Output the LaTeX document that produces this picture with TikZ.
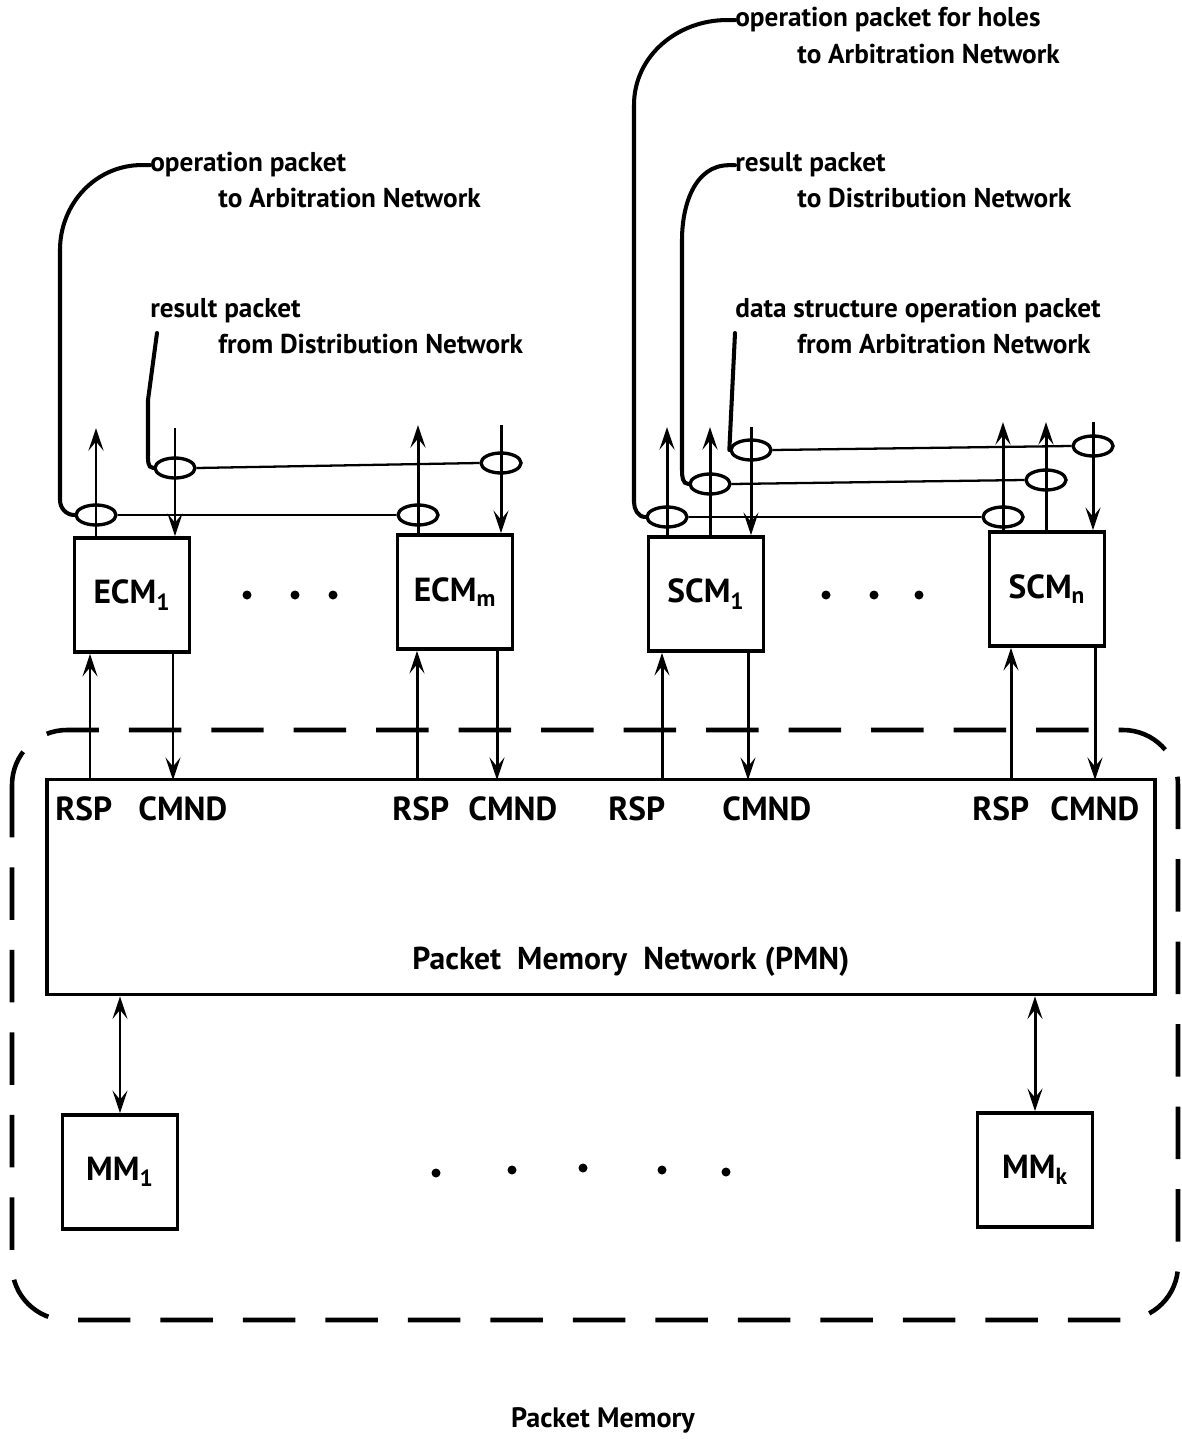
\documentclass[tikz,border=0pt]{standalone}
\usepackage{fontspec}
\setmainfont{PT Sans}
\usetikzlibrary{calc,arrows.meta,shapes.geometric}

\tikzset{
  cmbox/.style={draw,line width=2.2pt,minimum width=2.3cm,minimum height=2.28cm,
    inner sep=0pt,font=\fontsize{19}{21}\selectfont\bfseries},
  lbl/.style={anchor=base west,inner sep=0pt,font=\fontsize{15.5}{18}\selectfont\bfseries},
  portlbl/.style={anchor=base west,inner sep=0pt,font=\fontsize{19}{21}\selectfont\bfseries},
  tap/.style={draw,ellipse,line width=1.9pt,minimum width=0.8cm,minimum height=0.4cm,inner sep=0pt},
  arr/.style={line width=1.7pt,-{Stealth[length=4.5mm,width=3mm,inset=1.8mm]}},
  arrtwo/.style={line width=1.7pt,{Stealth[length=4.5mm,width=3mm,inset=1.8mm]}-{Stealth[length=4.5mm,width=3mm,inset=1.8mm]}},
  bus/.style={line width=1.3pt},
  wire/.style={line width=2.3pt,line cap=round}
}

\begin{document}
\begin{tikzpicture}[x=0.02cm,y=-0.02cm]
  \useasboundingbox (0,0) rectangle (1182,1439);

  % labels of the packet lines
  \node[lbl] (opA)  at (150,172) {operation packet};
  \node[lbl] (opA2) at (218,208) {to Arbitration Network};
  \node[lbl] (resB)  at (150,317) {result packet};
  \node[lbl] (resB2) at (218,353) {from Distribution Network};
  \node[lbl] (opC)  at (735,27) {operation packet for holes};
  \node[lbl] (opC2) at (797,64) {to Arbitration Network};
  \node[lbl] (resD)  at (735,172) {result packet};
  \node[lbl] (resD2) at (797,208) {to Distribution Network};
  \node[lbl] (dsE)  at (735,317) {data structure operation packet};
  \node[lbl] (dsE2) at (797,353) {from Arbitration Network};

  % control modules
  \node[cmbox] (ecm1) at (132,595) {ECM\textsubscript{1}};
  \node[cmbox] (ecmm) at (455,592) {ECM\textsubscript{m}};
  \node[cmbox] (scm1) at (706,594) {SCM\textsubscript{1}};
  \node[cmbox] (scmn) at (1047,589) {SCM\textsubscript{n}};
  \foreach \x in {247,295,333} \fill (\x,595) circle[radius=0.09cm];
  \foreach \x in {826,874,919} \fill (\x,595) circle[radius=0.09cm];

  % taps on the buses
  \node[tap] (tA1) at (96,515) {};
  \node[tap] (tAm) at (418,515) {};
  \node[tap] (tB1) at (175,468) {};
  \node[tap] (tBm) at (501,463) {};
  \node[tap] (tC1) at (667,517) {};
  \node[tap] (tCn) at (1003,517) {};
  \node[tap] (tD1) at (710,484) {};
  \node[tap] (tDn) at (1046,480) {};
  \node[tap] (tE1) at (751,450) {};
  \node[tap] (tEn) at (1093,446) {};

  % lines from the labels to the taps
  \draw[wire] (opA.west) -- ++(-8,0) to[out=180,in=90] (60,250) -- (60,500)
    to[out=-90,in=180] (tA1.west);
  \draw[wire] ($(resB.base west)+(7,16)$) -- (148,400) -- (148,453)
    to[out=-90,in=180] (tB1.west);
  \draw[wire] (opC.west) -- ++(-8,0) to[out=180,in=90] (634,105) -- (634,502)
    to[out=-90,in=180] (tC1.west);
  \draw[wire] (resD.west) -- ++(-6,0) to[out=180,in=90] (682,240) -- (682,470)
    to[out=-90,in=180] (tD1.west);
  \draw[wire] ($(dsE.base west)+(0,16)$) -- (tE1.west);

  % buses
  \draw[bus] (tA1.east) -- (tAm.west);
  \draw[bus] (tB1.east) -- (tBm.west);
  \draw[bus] (tC1.east) -- (tCn.west);
  \draw[bus] (tD1.east) -- (tDn.west);
  \draw[bus] (tE1.east) -- (tEn.west);

  % arrows above the modules
  \foreach \t/\b in {tA1/ecm1,tAm/ecmm,tC1/scm1,tD1/scm1,tCn/scmn,tDn/scmn}
    \draw[arr] (\t |- \b.north) -- ++(0,-108);
  \foreach \t/\b in {tB1/ecm1,tBm/ecmm,tE1/scm1,tEn/scmn}
    \draw[arr] ($(\t |- \b.north)+(0,-108)$) -- (\t |- \b.north);

  % packet memory
  \draw[line width=2.6pt,dash pattern=on 1.05cm off 0.6cm,rounded corners=1.1cm]
    (12,730) rectangle (1178,1320);
  \node[draw,line width=2.2pt,minimum width=22.16cm,minimum height=4.3cm] (pmn) at (601,887) {};
  \node[font=\fontsize{18}{20}\selectfont\bfseries] (pmnlbl) at (631,962) {Packet\ \ Memory\ \ Network (PMN)};
  \foreach \x/\s in {55/RSP,138/CMND,392/RSP,468/CMND,608/RSP,722/CMND,972/RSP,1050/CMND}
    \node[portlbl] at (\x,820) {\s};

  % ports between modules and PMN
  \foreach \r/\c/\b in {90/173/ecm1,417/497/ecmm,662/748/scm1,1011/1095/scmn}{
    \coordinate (rp) at (\r,780);
    \coordinate (cp) at (\c,780);
    \draw[arr] (rp) -- (rp |- \b.south);
    \draw[arr] (cp |- \b.south) -- (cp);
  }

  % memory modules
  \node[cmbox] (mm1) at (120,1172) {MM\textsubscript{1}};
  \node[cmbox] (mmk) at (1035,1170) {MM\textsubscript{k}};
  \draw[arrtwo] (pmn.south -| mm1.north) -- (mm1.north);
  \draw[arrtwo] (pmn.south -| mmk.north) -- (mmk.north);
  \foreach \x/\y in {436/1173,512/1170,583/1168,662/1170,726/1172}
    \fill (\x,\y) circle[radius=0.09cm];

  \node[font=\fontsize{16}{18}\selectfont\bfseries] (cap) at (603,1420) {Packet Memory};
\end{tikzpicture}
\end{document}
